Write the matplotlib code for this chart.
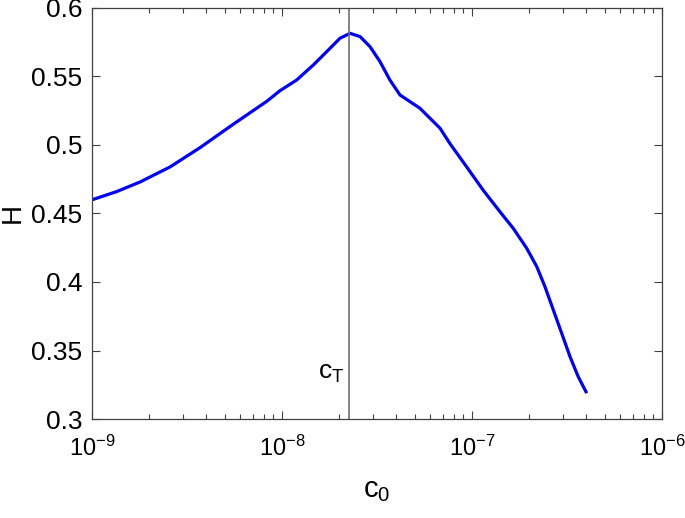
import numpy as np
import matplotlib.pyplot as plt
from matplotlib.ticker import LogLocator, NullFormatter

plt.rcParams['font.family'] = ['Liberation Sans', 'DejaVu Sans']
plt.rcParams['mathtext.fontset'] = 'custom'
plt.rcParams['mathtext.rm'] = 'Liberation Sans'
plt.rcParams['mathtext.it'] = 'Liberation Sans'
plt.rcParams['mathtext.default'] = 'regular'

# curve (log10 of c0, H)
log_c0 = [-9.0, -8.87, -8.747, -8.589, -8.432, -8.258, -8.079, -8.011, -7.923,
          -7.835, -7.747, -7.695, -7.642, -7.589, -7.537, -7.484, -7.432,
          -7.379, -7.326, -7.274, -7.221, -7.168, -7.116, -7.028, -6.941,
          -6.853, -6.783, -6.712, -6.659, -6.616, -6.572, -6.528, -6.484,
          -6.441, -6.40]
H = [0.460, 0.466, 0.473, 0.484, 0.498, 0.515, 0.532, 0.5396, 0.5474,
     0.5584, 0.5706, 0.5779, 0.5815, 0.5791, 0.5718, 0.5608, 0.5474,
     0.5365, 0.5316, 0.5268, 0.5195, 0.5122, 0.501, 0.484, 0.467,
     0.4513, 0.4392, 0.4246, 0.4112, 0.3966, 0.3796, 0.3626, 0.3455,
     0.3309, 0.3199]
c_T = 2.25e-8

x_ticks = [1e-9, 1e-8, 1e-7, 1e-6]
x_ticklabels = ['$10^{-9}$', '$10^{-8}$', '$10^{-7}$', '$10^{-6}$']
y_ticks = [0.3, 0.35, 0.4, 0.45, 0.5, 0.55, 0.6]
y_ticklabels = ['0.3', '0.35', '0.4', '0.45', '0.5', '0.55', '0.6']

c0 = 10.0 ** np.array(log_c0)

fig = plt.figure(figsize=(6.85, 5.18), dpi=100)
ax = fig.add_axes([0.1343, 0.1911, 0.8321, 0.7935])

ax.plot(c0, H, color='#0000ff', lw=2.3, solid_joinstyle='round')
ax.axvline(c_T, color='#707070', lw=1.2)
ax.text(c_T / 1.06, 0.329, '$c_T$', fontsize=19, ha='right', va='baseline')

ax.set_xscale('log')
ax.set_xlim(1e-9, 1e-6)
ax.set_ylim(0.3, 0.6)
ax.set_xticks(x_ticks)
ax.set_xticklabels(x_ticklabels)
ax.set_yticks(y_ticks)
ax.set_yticklabels(y_ticklabels)
ax.xaxis.set_minor_locator(LogLocator(base=10, subs=np.arange(2, 10)))
ax.xaxis.set_minor_formatter(NullFormatter())

ax.tick_params(which='both', direction='in', top=True, right=True,
               labelsize=19, color='#404040')
ax.tick_params(axis='x', labelsize=17)
ax.tick_params(which='major', length=6, width=0.8)
ax.tick_params(which='minor', length=3.5, width=0.8)
ax.tick_params(axis='x', pad=12)
ax.tick_params(axis='y', pad=7)
for s in ax.spines.values():
    s.set_color('#404040')
    s.set_linewidth(0.9)

ax.set_xlabel('$c_0$', fontsize=21, labelpad=11)
ax.set_ylabel('H', fontsize=20, labelpad=4)

fig.savefig('out.png', dpi=100)
